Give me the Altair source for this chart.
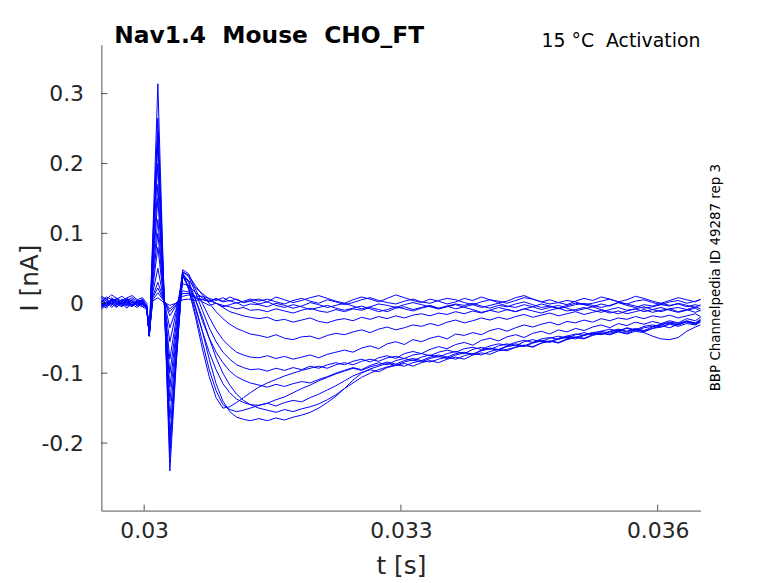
import altair as alt
import pandas as pd

# ---------------- data (current in pA, time in ms) ----------------
TIME_MS = [29.50, 29.56, 29.62, 29.68, 29.74, 29.80, 29.86, 29.92, 29.98,
           30.03, 30.06, 30.10, 30.16, 30.22, 30.30, 30.37, 30.45, 30.52, 30.60,
           30.68, 30.76, 30.84, 30.92, 31.00, 31.08, 31.16, 31.24,
           31.34, 31.44, 31.54, 31.64, 31.74, 31.84, 31.94, 32.04, 32.14, 32.24,
           32.34, 32.44, 32.54, 32.64, 32.74, 32.84, 32.94, 33.04, 33.14, 33.24,
           33.34, 33.44, 33.54, 33.64, 33.74, 33.84, 33.94, 34.04, 34.14, 34.24,
           34.34, 34.44, 34.54, 34.64, 34.74, 34.84, 34.94, 35.04, 35.14, 35.24,
           35.34, 35.44, 35.54, 35.64, 35.74, 35.84, 35.94, 36.04, 36.14, 36.24,
           36.34, 36.44, 36.50]

T01 = [-8, -3, 2, -5, 0, 4, -2, -6, 1,
       -3, -43, 3, 8, 2, -3, 0, 5, 6, 4,
       6, 2, 7, 3, 9, 5, 1, 4,
       6, 2, 9, 5, 1, 4, 8, 11, 7, 3,
       0, 5, 9, 6, 2, 7, 12, 8, 4, 1,
       6, 3, -1, 2, 7, 4, 9, 5, 1, 3,
       8, 11, 6, 2, 5, 1, -2, 3, 7, 4,
       9, 6, 2, 5, 10, 7, 3, 0, 4, 8,
       5, 2, 6]
T02 = [5, -3, 8, 2, -4, 6, 0, 3, -2,
       -5, -40, 5, 15, 5, -8, 0, 10, 12, 8,
       5, 3, 6, 2, 4, 0, 3, 6,
       3, 6, 2, -1, 4, 7, 3, 0, 5, 2,
       -2, 1, 5, 8, 4, 1, -1, 3, 6, 2,
       0, 4, 7, 5, 1, -2, 2, 5, 3, 0,
       4, 8, 6, 2, -1, 1, 4, 2, -2, 0,
       3, 6, 2, -1, 3, 5, 1, -2, 2, 4,
       0, 3, 5]
T03 = [10, 6, 12, 7, 3, 8, 11, 5, 8,
       0, -45, 8, 22, 6, -12, -2, 14, 14, 10,
       10, 7, 4, 8, 3, 6, 1, 3,
       -1, 2, -3, -6, -2, -5, -9, -6, -3, -7,
       -10, -7, -4, -8, -12, -9, -5, -8, -11, -7,
       -4, -8, -5, -2, -6, -9, -13, -10, -6, -9,
       -12, -8, -5, -9, -6, -3, -7, -11, -8, -5,
       -9, -12, -15, -11, -8, -12, -9, -6, -10, -13,
       -10, -7, -11]
T04 = [-4, 2, -6, 1, 5, -2, -5, 2, 4,
       -6, -44, 10, 30, 8, -18, -4, 18, 16, 8,
       2, -3, 0, -5, -2, 1, -4, -1,
       -2, -5, 0, -3, -7, -4, 1, -2, -6, -3,
       0, -4, -8, -5, -1, -3, -6, -2, 1, -2,
       -5, -8, -4, -1, -3, 0, -4, -7, -3, -5,
       -1, 2, -2, -6, -4, -8, -5, -2, 0, -3,
       -6, -3, 1, -1, -4, -7, -5, -2, -4, 0,
       -3, -6, -2]
T05 = [8, 3, -1, 6, 10, 4, -2, 1, 6,
       -4, -46, 15, 50, 10, -35, -10, 28, 25, 15,
       8, 4, 0, -3, -5, -8, -6, -10,
       -9, -12, -8, -11, -14, -10, -7, -11, -13, -9,
       -12, -8, -10, -6, -9, -12, -7, -5, -9, -6,
       -3, -7, -4, -8, -5, -2, -6, -3, 0, -4,
       -6, -2, -5, -1, -4, -7, -3, 0, -2, -5,
       -1, -4, 1, -3, -6, -2, -4, 0, -3, -1,
       -5, -2, -4]
T06 = [-2, -7, 3, -1, -5, 1, 4, -3, 0,
       -8, -45, 22, 80, 15, -55, -15, 38, 32, 22,
       14, 6, 0, -6, -12, -15, -18, -20,
       -22, -20, -25, -23, -27, -24, -21, -26, -28, -24,
       -22, -25, -20, -23, -19, -22, -18, -21, -17, -15,
       -18, -14, -16, -12, -15, -11, -14, -10, -13, -9,
       -12, -8, -11, -14, -10, -7, -11, -9, -6, -10,
       -13, -9, -6, -10, -8, -5, -9, -12, -8, -6,
       -9, -5, -8]
T07 = [3, 9, 5, -1, 2, 7, 3, -4, 1,
       -7, -47, 30, 100, 20, -80, -25, 45, 40, 25,
       12, 0, -12, -22, -30, -36, -40, -44,
       -46, -49, -45, -50, -52, -48, -47, -51, -46, -43,
       -45, -41, -38, -42, -37, -34, -38, -35, -31, -33,
       -29, -32, -27, -24, -28, -25, -21, -24, -20, -23,
       -19, -16, -20, -17, -14, -18, -15, -12, -16, -13,
       -10, -14, -11, -15, -12, -9, -13, -10, -8, -12,
       -9, -13, -10]
T08 = [-6, 0, -3, 4, -1, -7, 2, -2, -5,
       -9, -46, 38, 120, 25, -100, -35, 48, 42, 20,
       0, -20, -38, -52, -62, -70, -74, -77,
       -78, -75, -79, -76, -80, -77, -74, -78, -73, -70,
       -67, -70, -64, -61, -65, -58, -55, -59, -52, -55,
       -50, -47, -51, -44, -46, -42, -45, -39, -36, -40,
       -35, -31, -34, -30, -27, -31, -26, -28, -24, -27,
       -22, -25, -21, -23, -19, -22, -18, -20, -17, -21,
       -18, -15, -19]
T09 = [1, -4, 6, 2, -3, 4, 8, 3, -1,
       -6, -47, 45, 150, 30, -120, -45, 45, 38, 15,
       -10, -35, -55, -70, -80, -88, -92, -95,
       -94, -97, -93, -96, -92, -95, -90, -93, -88, -85,
       -88, -83, -80, -84, -78, -75, -79, -72, -69, -72,
       -66, -62, -65, -59, -56, -60, -53, -50, -54, -48,
       -45, -49, -43, -40, -44, -38, -41, -36, -39, -34,
       -31, -35, -29, -32, -27, -30, -26, -29, -25, -28,
       -22, -25, -20]
T10 = [-3, 2, -1, -6, 3, 0, -4, 5, 2,
       -8, -46, 55, 170, 35, -140, -55, 42, 32, 5,
       -25, -50, -70, -85, -97, -105, -110, -114,
       -117, -120, -116, -119, -115, -112, -114, -109, -105, -100,
       -96, -92, -95, -89, -85, -88, -82, -79, -82, -77,
       -74, -77, -72, -69, -72, -66, -63, -66, -61, -58,
       -61, -55, -52, -55, -50, -47, -50, -45, -42, -45,
       -40, -37, -40, -35, -38, -33, -31, -34, -29, -31,
       -26, -29, -25]
T11 = [4, -1, 3, 7, 0, -4, 2, -1, 5,
       -5, -47, 65, 200, 40, -165, -65, 40, 30, -5,
       -40, -70, -95, -115, -128, -137, -142, -145,
       -146, -143, -147, -142, -139, -141, -135, -130, -124, -118,
       -111, -104, -99, -95, -98, -92, -89, -86, -90, -85,
       -82, -85, -80, -77, -80, -74, -71, -73, -68, -66,
       -63, -60, -62, -57, -54, -57, -52, -49, -51, -46,
       -43, -45, -41, -44, -40, -42, -47, -51, -52, -49,
       -40, -34, -31]
T12 = [-1, 5, 0, -3, 6, 2, -2, 1, -4,
       -5, -46, 70, 230, 45, -190, -75, 38, 25, 5,
       -20, -50, -78, -100, -117, -130, -139, -145,
       -150, -153, -156, -152, -155, -151, -148, -144, -138, -131,
       -122, -114, -106, -100, -95, -91, -88, -90, -85, -82,
       -84, -80, -77, -80, -75, -72, -74, -69, -66, -68,
       -63, -60, -63, -57, -54, -56, -51, -48, -50, -45,
       -42, -45, -40, -43, -38, -41, -36, -34, -30, -33,
       -29, -31, -27]
T13 = [2, 7, -2, 3, -1, 5, 1, -3, 2,
       -7, -47, 78, 245, 50, -205, -85, 40, 22, -8,
       -40, -80, -115, -140, -155, -163, -166, -168,
       -165, -168, -164, -167, -163, -160, -156, -150, -142, -133,
       -122, -110, -100, -94, -90, -86, -89, -84, -81, -84,
       -79, -76, -79, -74, -71, -73, -68, -65, -67, -62,
       -60, -62, -57, -54, -56, -51, -49, -51, -46, -43,
       -45, -41, -38, -41, -37, -40, -36, -32, -35, -30,
       -27, -30, -26]
T14 = [-5, 0, 4, -2, 1, -3, 6, 0, -2,
       -6, -46, 85, 265, 55, -220, -90, 42, 20, -15,
       -55, -95, -125, -145, -152, -155, -153, -150,
       -146, -143, -138, -134, -128, -122, -117, -111, -106, -101,
       -97, -93, -96, -91, -88, -84, -87, -82, -79, -82,
       -77, -74, -77, -72, -70, -73, -67, -64, -66, -61,
       -58, -61, -56, -53, -55, -50, -47, -49, -45, -42,
       -44, -40, -37, -40, -36, -39, -34, -31, -28, -31,
       -26, -29, -24]
T15 = [0, -4, 3, 6, -1, 2, -3, 4, 0,
       -5, -47, 95, 314, 60, -240, -95, 45, 20, -20,
       -65, -105, -135, -150, -148, -142, -135, -128,
       -120, -114, -109, -104, -100, -96, -93, -90, -93, -88,
       -85, -88, -83, -80, -83, -78, -76, -79, -74, -72,
       -75, -70, -67, -70, -65, -63, -66, -61, -58, -60,
       -56, -53, -56, -51, -49, -52, -47, -44, -46, -42,
       -40, -43, -39, -36, -39, -35, -33, -30, -27, -29,
       -25, -28, -23]

TRACES = [T01, T02, T03, T04, T05, T06, T07, T08, T09, T10, T11, T12, T13, T14, T15]

X_TICKS = [0.030, 0.033, 0.036]
Y_TICKS = [-0.2, -0.1, 0, 0.1, 0.2, 0.3]
X_DOMAIN = [0.0295, 0.0365]
Y_DOMAIN = [-0.2966, 0.37]

NB = "\u00a0"
TITLE = "Nav1.4" + NB + " Mouse" + NB + " CHO_FT"
COND = "15 \u00b0C" + NB + " Activation"
SIDE = "BBP Channelpedia ID 49287 rep 3"

# ---------------- build table ----------------
rows = []
for k, tr in enumerate(TRACES):
    for t, v in zip(TIME_MS, tr):
        rows.append({"t": t / 1000.0, "I": v / 1000.0, "trace": k})
df = pd.DataFrame(rows)

W, H = 603, 469
AX = "#262626"
FONT = "DejaVu Sans"

xscale = alt.Scale(domain=X_DOMAIN, nice=False, zero=False)
yscale = alt.Scale(domain=Y_DOMAIN, nice=False, zero=False)

lines = alt.Chart(df).mark_line(color="#0000ff", strokeWidth=1).encode(
    x=alt.X("t:Q", scale=xscale,
            axis=alt.Axis(values=X_TICKS, labelExpr="toString(datum.value)",
                          title="t [s]", titleX=W / 2, titleY=63,
                          titleBaseline="alphabetic", titleAlign="center")),
    y=alt.Y("I:Q", scale=yscale,
            axis=alt.Axis(values=Y_TICKS, labelExpr="toString(datum.value)",
                          title="I [nA]", titleX=-72, titleY=H / 2,
                          titleAngle=270, titleBaseline="middle", titleAlign="center")),
    detail="trace:N",
    order="t:Q",
)

xt = alt.Chart(pd.DataFrame({"t": X_TICKS})).mark_rule(color=AX, strokeWidth=0.8).encode(
    x=alt.X("t:Q", scale=xscale), y=alt.value(H), y2=alt.value(H - 6))
yt = alt.Chart(pd.DataFrame({"I": Y_TICKS})).mark_rule(color=AX, strokeWidth=0.8).encode(
    y=alt.Y("I:Q", scale=yscale), x=alt.value(0), x2=alt.value(6))

title_txt = alt.Chart(pd.DataFrame({"s": [TITLE]})).mark_text(
    align="left", baseline="alphabetic", fontSize=23.5, fontWeight="bold",
    font=FONT, color="#000000").encode(text="s:N", x=alt.value(13), y=alt.value(-2))
cond_txt = alt.Chart(pd.DataFrame({"s": [COND]})).mark_text(
    align="right", baseline="alphabetic", fontSize=19,
    font=FONT, color="#000000").encode(text="s:N", x=alt.value(W), y=alt.value(2))
side_txt = alt.Chart(pd.DataFrame({"s": [SIDE]})).mark_text(
    align="center", baseline="middle", fontSize=13.5, angle=270,
    font=FONT, color="#000000").encode(text="s:N", x=alt.value(619), y=alt.value(H / 2))

chart = alt.layer(lines, xt, yt, title_txt, cond_txt, side_txt).properties(
    width=W, height=H,
    autosize=alt.AutoSizeParams(type="none"),
    padding={"left": 94, "top": 35, "right": 70, "bottom": 72},
).configure_view(stroke=None).configure_axis(
    domainColor=AX, domainWidth=0.8, ticks=False, tickSize=0, grid=False,
    labelFont=FONT, labelFontSize=22, labelColor=AX,
    titleFont=FONT, titleFontSize=25, titleColor=AX, titleFontWeight="normal",
).configure_axisX(labelPadding=10).configure_axisY(labelPadding=18)

chart.save("out.html", embed_options={"renderer": "svg", "actions": False})
